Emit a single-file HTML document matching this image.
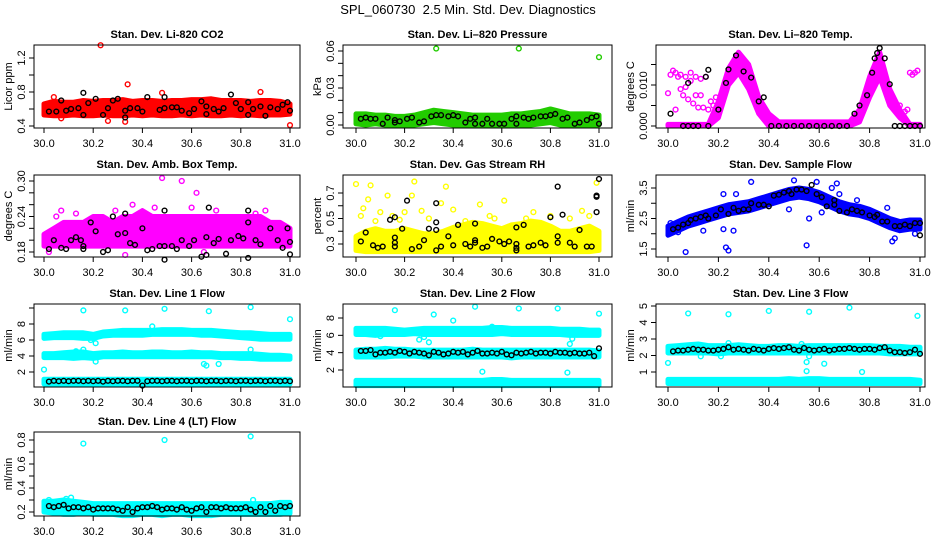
<!DOCTYPE html>
<html><head><meta charset="utf-8"><style>
body{margin:0;background:#fff}
svg{display:block;font-family:"Liberation Sans",Arial,sans-serif}
</style></head><body>
<svg id="chart" width="936" height="540" xmlns="http://www.w3.org/2000/svg">
<text x="468" y="14" text-anchor="middle" font-size="13">SPL_060730&#160; 2.5 Min. Std. Dev. Diagnostics</text>
</svg>
<script>
// shared categories
const T = [30.00,30.04,30.08,30.12,30.16,30.20,30.24,30.28,30.32,30.36,30.40,30.44,30.48,30.52,30.56,30.60,30.64,30.68,30.72,30.76,30.80,30.84,30.88,30.92,30.96,31.00];
const TB = [30.02,30.04,30.06,30.08,30.10,30.12,30.14,30.16,30.18,30.20,30.22,30.24,30.26,30.28,30.30,30.32,30.34,30.36,30.38,30.40,30.42,30.44,30.46,30.48,30.50,30.52,30.54,30.56,30.58,30.60,30.62,30.64,30.66,30.68,30.70,30.72,30.74,30.76,30.78,30.80,30.82,30.84,30.86,30.88,30.90,30.92,30.94,30.96,30.98,31.00];
const xTicks = [30.0,30.2,30.4,30.6,30.8,31.0];
const xTickLabels = ["30.0","30.2","30.4","30.6","30.8","31.0"];

// P1 CO2
const co2Lo = [0.53,0.52,0.52,0.53,0.52,0.52,0.53,0.52,0.52,0.53,0.52,0.53,0.52,0.52,0.53,0.52,0.53,0.52,0.52,0.53,0.52,0.53,0.52,0.53,0.53,0.54];
const co2Hi = [0.66,0.69,0.68,0.68,0.70,0.69,0.70,0.70,0.71,0.69,0.70,0.70,0.69,0.70,0.70,0.71,0.71,0.72,0.70,0.70,0.70,0.69,0.70,0.70,0.69,0.66];
const co2BlackX = [30.02,30.05,30.07,30.09,30.11,30.14,30.16,30.16,30.18,30.21,30.24,30.26,30.28,30.30,30.33,30.33,30.35,30.38,30.40,30.42,30.47,30.49,30.49,30.52,30.54,30.56,30.59,30.61,30.64,30.66,30.66,30.69,30.71,30.73,30.76,30.78,30.80,30.83,30.83,30.85,30.88,30.90,30.92,30.95,30.97,30.99,31.0];
const co2BlackY = [0.57,0.57,0.70,0.58,0.60,0.61,0.53,0.79,0.67,0.72,0.53,0.61,0.70,0.72,0.58,0.50,0.61,0.61,0.57,0.74,0.59,0.61,0.74,0.62,0.62,0.58,0.55,0.60,0.69,0.63,0.54,0.60,0.57,0.61,0.77,0.67,0.60,0.53,0.68,0.60,0.63,0.52,0.62,0.60,0.65,0.68,0.58];
const co2OutX = [30.23,30.34,30.26,30.33,30.88,31.0,30.48,30.07,30.04];
const co2OutY = [1.35,0.89,0.46,0.45,0.80,0.41,0.79,0.49,0.74];

// P2 Pressure
const presLo = [0.001,0.000,0.001,0.000,0.000,0.000,0.000,0.001,0.002,0.001,0.000,0.000,0.000,0.000,0.000,0.000,0.000,0.000,0.000,0.001,0.002,0.000,0.000,0.000,0.000,0.000];
const presHi = [0.009,0.009,0.008,0.008,0.007,0.007,0.008,0.010,0.012,0.011,0.010,0.009,0.008,0.008,0.008,0.008,0.009,0.009,0.010,0.011,0.013,0.011,0.009,0.009,0.009,0.008];
const presBlackX = [30.02,30.04,30.06,30.08,30.11,30.13,30.16,30.16,30.18,30.21,30.23,30.26,30.28,30.31,30.33,30.35,30.38,30.40,30.42,30.45,30.47,30.49,30.49,30.52,30.54,30.56,30.59,30.61,30.64,30.66,30.66,30.69,30.71,30.73,30.76,30.78,30.80,30.82,30.85,30.87,30.90,30.92,30.95,30.97,30.99,31.0];
const presBlackY = [0.005,0.006,0.005,0.005,0.001,0.006,0.002,0.004,0.003,0.005,0.006,0.002,0.003,0.007,0.008,0.008,0.007,0.008,0.007,0.002,0.005,0.006,0.001,0.001,0.005,0.001,0.001,0.001,0.005,0.007,0.001,0.006,0.005,0.006,0.007,0.007,0.008,0.009,0.005,0.006,0.001,0.002,0.004,0.006,0.007,0.001];
const presOutX = [30.33,30.67,31.0];
const presOutY = [0.062,0.062,0.055];

// P3 Temp
const tempLo = [0.000,0.000,0.000,0.000,0.000,0.002,0.010,0.013,0.009,0.003,0.000,0.000,0.000,0.000,0.000,0.000,0.000,0.000,0.000,0.001,0.007,0.012,0.005,0.002,0.000,0.000];
const tempHi = [0.0004,0.0004,0.0004,0.0004,0.0004,0.006,0.014,0.018,0.015,0.007,0.003,0.001,0.001,0.001,0.001,0.001,0.001,0.001,0.001,0.004,0.012,0.018,0.009,0.004,0.0004,0.0004];
const tempBlackX = [30.01,30.08,30.15,30.16,30.20,30.23,30.24,30.27,30.30,30.33,30.36,30.38,30.06,30.08,30.10,30.12,30.16,30.41,30.44,30.47,30.50,30.53,30.56,30.59,30.62,30.65,30.68,30.71,30.74,30.76,30.79,30.81,30.82,30.83,30.84,30.86,30.88,30.90,30.92,30.94,30.96,30.98,31.0];
const tempBlackY = [0.003,0.0105,0.012,0.0137,0.004,0.0105,0.0138,0.0172,0.0133,0.0118,0.006,0.007,0,0,0,0,0,0,0,0,0,0,0,0,0,0,0,0,0.003,0.005,0.0075,0.013,0.0165,0.0178,0.019,0.0165,0.0102,0,0,0,0,0,0];
const tempOutX = [30.01,30.03,30.05,30.07,30.09,30.11,30.13,30.15,30.17,30.00,30.03,30.06,30.08,30.10,30.12,30.14,30.16,30.18,30.19,30.05,30.07,30.11,30.13,30.02,30.04,30.09,30.96,30.98,30.97,30.92,30.95,30.99,30.94];
const tempOutY = [0.0125,0.013,0.0125,0.012,0.011,0.012,0.0115,0.012,0.006,0.008,0.004,0.0075,0.0065,0.0055,0.0045,0.0045,0.004,0.005,0.007,0.009,0.0095,0.0075,0.0075,0.0135,0.012,0.013,0.013,0.013,0.0125,0.005,0.004,0.0135,0.0035];

// P4 Amb box temp
const ambLo = [0.19,0.19,0.19,0.19,0.19,0.19,0.19,0.19,0.19,0.19,0.19,0.19,0.19,0.19,0.19,0.19,0.19,0.19,0.19,0.19,0.19,0.19,0.19,0.19,0.19,0.19];
const ambHi = [0.21,0.22,0.23,0.23,0.23,0.24,0.24,0.23,0.24,0.24,0.25,0.24,0.24,0.24,0.24,0.24,0.24,0.24,0.24,0.24,0.24,0.24,0.24,0.23,0.23,0.22];
const ambBlackX = [30.02,30.04,30.07,30.09,30.11,30.13,30.15,30.16,30.16,30.19,30.21,30.24,30.26,30.28,30.30,30.33,30.33,30.35,30.37,30.40,30.42,30.44,30.47,30.49,30.49,30.49,30.52,30.54,30.56,30.59,30.61,30.64,30.66,30.66,30.67,30.69,30.71,30.74,30.76,30.79,30.81,30.83,30.83,30.83,30.86,30.88,30.92,30.95,30.97,30.99,31.0,31.0];
const ambBlackY = [0.185,0.20,0.187,0.185,0.20,0.205,0.20,0.19,0.185,0.23,0.215,0.18,0.183,0.24,0.21,0.212,0.245,0.195,0.192,0.22,0.183,0.185,0.19,0.19,0.167,0.25,0.19,0.185,0.20,0.19,0.20,0.172,0.205,0.175,0.255,0.195,0.202,0.177,0.20,0.207,0.203,0.25,0.23,0.17,0.20,0.193,0.22,0.20,0.187,0.22,0.197,0.176];
const ambOutX = [30.48,30.56,30.62,30.13,30.07,30.36,30.60,30.33,30.02,30.65,30.29,30.86,30.05,30.45,30.70,30.90];
const ambOutY = [0.305,0.30,0.28,0.245,0.25,0.26,0.255,0.175,0.18,0.18,0.25,0.245,0.24,0.255,0.25,0.25];

// P5 Gas stream RH
const rhLo = [0.25,0.24,0.24,0.24,0.24,0.24,0.24,0.24,0.24,0.24,0.24,0.24,0.24,0.24,0.24,0.24,0.24,0.24,0.24,0.24,0.24,0.24,0.24,0.24,0.24,0.25];
const rhHi = [0.36,0.40,0.42,0.40,0.40,0.42,0.40,0.38,0.38,0.40,0.43,0.45,0.47,0.46,0.44,0.42,0.45,0.46,0.48,0.47,0.44,0.40,0.40,0.42,0.44,0.40];
const rhBlackX = [30.02,30.04,30.07,30.09,30.11,30.14,30.16,30.16,30.16,30.16,30.19,30.21,30.23,30.26,30.28,30.30,30.33,30.33,30.33,30.33,30.35,30.38,30.40,30.42,30.45,30.47,30.49,30.49,30.49,30.52,30.54,30.56,30.59,30.61,30.63,30.66,30.66,30.66,30.66,30.69,30.71,30.73,30.76,30.78,30.80,30.83,30.83,30.83,30.85,30.88,30.90,30.92,30.95,30.97,30.99,30.99,30.99,31.0];
const rhBlackY = [0.32,0.39,0.29,0.27,0.28,0.49,0.51,0.35,0.31,0.28,0.42,0.64,0.26,0.28,0.33,0.42,0.41,0.47,0.62,0.25,0.28,0.36,0.29,0.45,0.30,0.28,0.31,0.33,0.46,0.27,0.28,0.34,0.32,0.30,0.32,0.43,0.30,0.27,0.25,0.45,0.28,0.29,0.31,0.29,0.51,0.36,0.31,0.75,0.53,0.31,0.28,0.41,0.28,0.28,0.55,0.67,0.68,0.81];
const rhOutX = [30.0,30.06,30.05,30.13,30.24,30.23,30.37,30.51,30.61,30.40,30.35,30.99,30.20,30.10,30.03,30.18,30.93,30.88,30.57,30.73,30.27,30.45,30.08,30.15,30.30,30.55,30.70,30.80,30.96,30.02];
const rhOutY = [0.77,0.76,0.65,0.68,0.79,0.68,0.75,0.61,0.64,0.57,0.62,0.78,0.55,0.55,0.58,0.49,0.56,0.50,0.50,0.55,0.56,0.48,0.48,0.52,0.50,0.52,0.50,0.52,0.52,0.52];

// P6 Sample flow
const flowLo = [1.95,2.1,2.25,2.35,2.45,2.55,2.65,2.7,2.75,2.85,2.95,3.05,3.15,3.2,3.15,3.05,2.9,2.75,2.65,2.6,2.5,2.35,2.2,2.1,2.15,2.15];
const flowHi = [2.25,2.4,2.55,2.65,2.75,2.85,2.95,3.0,3.05,3.15,3.25,3.35,3.45,3.5,3.45,3.35,3.2,3.05,2.95,2.9,2.8,2.65,2.5,2.4,2.45,2.45];
const flowBlackX = [30.02,30.04,30.06,30.08,30.09,30.11,30.13,30.15,30.16,30.19,30.21,30.24,30.26,30.28,30.30,30.32,30.33,30.36,30.38,30.40,30.42,30.44,30.46,30.48,30.49,30.51,30.53,30.55,30.57,30.59,30.61,30.63,30.66,30.66,30.68,30.71,30.73,30.75,30.77,30.80,30.82,30.83,30.85,30.87,30.90,30.92,30.94,30.96,30.98,31.0,31.0];
const flowBlackY = [2.15,2.2,2.3,2.35,2.45,2.5,2.55,2.6,2.5,2.6,2.8,2.65,2.85,2.75,2.8,2.8,3.0,2.95,2.95,2.9,3.25,3.28,3.35,3.4,3.3,3.45,3.45,3.4,3.6,3.3,3.2,2.9,2.95,3.1,2.75,2.7,2.8,2.75,2.7,2.6,2.55,2.62,2.4,2.4,2.25,2.25,2.3,2.25,2.35,2.35,1.95];
const flowOutX = [30.07,30.23,30.24,30.22,30.26,30.22,30.27,30.33,30.50,30.59,30.67,30.55,30.56,30.48,30.65,30.87,30.89,30.90,30.98,30.14,30.68,30.75,30.61,30.01,30.04];
const flowOutY = [1.4,1.55,1.45,2.15,2.1,3.3,3.3,3.7,3.75,3.7,3.65,1.62,2.5,2.8,3.5,2.85,1.75,1.85,2.0,2.1,3.3,3.1,2.7,2.35,2.05];

// P7 Line 1 flow
const l1UpLo = [6.2,6.3,6.3,6.3,6.2,6.2,6.5,6.6,6.6,6.6,6.6,6.7,6.7,6.7,6.7,6.7,6.6,6.6,6.5,6.4,6.3,6.2,6.1,6.1,6.1,6.1];
const l1UpHi = [6.7,6.8,6.9,6.9,6.9,6.7,7.0,7.1,7.2,7.2,7.2,7.2,7.3,7.3,7.3,7.2,7.2,7.2,7.1,7.0,6.9,6.9,6.8,6.7,6.7,6.7];
const l1MidLo = [3.8,3.8,3.8,3.7,3.8,3.7,3.9,3.9,3.9,3.9,3.9,3.9,3.9,3.9,3.9,3.9,3.9,3.9,3.8,3.8,3.7,3.7,3.6,3.6,3.6,3.6];
const l1MidHi = [4.3,4.3,4.4,4.5,4.5,4.3,4.4,4.4,4.5,4.4,4.4,4.5,4.5,4.4,4.4,4.5,4.4,4.4,4.3,4.3,4.3,4.3,4.2,4.1,4.1,4.0];
const l1LowLo = [0.5,0.5,0.5,0.5,0.5,0.5,0.5,0.5,0.5,0.5,0.5,0.5,0.5,0.5,0.5,0.5,0.5,0.5,0.5,0.5,0.5,0.5,0.5,0.5,0.5,0.5];
const l1LowHi = [1.1,1.1,1.1,1.1,1.1,1.1,1.1,1.1,1.1,1.1,1.1,1.1,1.1,1.1,1.1,1.1,1.1,1.1,1.1,1.1,1.1,1.1,1.1,1.1,1.1,1.1];
const l1BlackY = [0.8,0.9,0.85,0.9,0.85,0.9,0.9,0.85,0.9,0.85,0.9,0.8,0.9,0.85,0.9,0.9,0.85,0.9,0.9,0.3,0.85,0.9,0.9,0.85,0.9,0.9,0.85,0.9,0.9,0.85,0.9,0.9,0.85,0.9,0.9,0.85,0.9,0.9,0.85,0.9,0.9,0.85,0.9,0.9,0.85,0.9,0.9,0.85,0.9,0.85];
const l1OutX = [30.0,30.16,30.33,30.49,30.67,30.84,31.0,30.21,30.21,30.19,30.65,30.66,30.71,30.84,30.44,30.13,30.16];
const l1OutY = [2.3,9.7,9.7,9.9,9.6,10.1,8.6,3.3,5.6,6.0,3.0,2.8,3.0,4.8,7.7,4.6,4.8];

// P8 Line 2 flow
const l2UpLo = [6.1,6.1,6.0,6.1,6.1,6.1,6.2,6.1,6.1,6.1,6.1,6.1,6.1,6.1,6.1,6.2,6.1,6.1,6.1,6.1,6.1,6.1,6.0,6.0,6.0,6.0];
const l2UpHi = [6.8,6.8,6.8,6.8,6.7,6.6,6.7,6.8,6.8,6.8,6.8,6.8,6.8,6.8,6.9,6.9,6.8,6.8,6.8,6.8,6.8,6.7,6.7,6.7,6.6,6.6];
const l2MidLo = [3.5,3.5,3.5,3.5,3.6,3.6,3.6,3.5,3.5,3.5,3.5,3.5,3.5,3.5,3.5,3.5,3.4,3.5,3.5,3.5,3.5,3.5,3.5,3.5,3.5,3.5];
const l2MidHi = [4.3,4.4,4.4,4.5,4.4,4.4,4.3,4.3,4.3,4.3,4.3,4.3,4.4,4.3,4.3,4.3,4.3,4.3,4.3,4.3,4.3,4.3,4.3,4.3,4.3,4.2];
const l2LowLo = [0.2,0.2,0.2,0.2,0.2,0.2,0.2,0.2,0.2,0.2,0.2,0.2,0.2,0.2,0.2,0.2,0.2,0.2,0.2,0.2,0.2,0.2,0.2,0.2,0.2,0.2];
const l2LowHi = [0.8,0.8,0.8,0.8,0.8,0.8,0.8,0.8,0.8,0.8,0.8,0.8,0.8,0.8,0.9,0.9,0.8,0.8,0.8,0.8,0.8,0.8,0.8,0.8,0.8,0.8];
const l2BlackY = [4.2,4.2,4.3,3.8,4.0,4.0,4.1,4.0,4.2,4.1,3.9,4.1,4.0,3.9,3.7,4.1,4.0,3.8,3.9,4.1,4.0,4.1,3.8,4.0,4.2,3.9,3.9,4.0,3.9,4.1,3.8,3.7,4.0,3.9,4.0,4.1,3.9,4.0,4.0,3.9,4.1,4.0,4.0,3.9,4.0,3.9,3.9,4.0,3.6,4.5];
const l2OutX = [30.16,30.32,30.40,30.49,30.67,30.83,31.0,30.28,30.26,30.30,30.56,30.52,30.87,30.88,30.89,30.10];
const l2OutY = [8.9,8.4,7.7,9.3,9.1,9.1,8.5,5.8,5.5,5.2,7.0,1.8,1.7,5.0,5.6,5.9];

// P9 Line 3 flow
const l3UpLo = [2.15,2.15,2.15,2.15,2.15,2.1,2.15,2.15,2.15,2.15,2.15,2.15,2.15,2.15,2.15,2.15,2.15,2.15,2.15,2.15,2.15,2.15,2.1,2.1,2.1,2.1];
const l3UpHi = [2.55,2.6,2.65,2.7,2.6,2.6,2.6,2.65,2.6,2.55,2.55,2.6,2.6,2.55,2.6,2.6,2.6,2.6,2.6,2.6,2.6,2.55,2.55,2.55,2.5,2.5];
const l3LowLo = [0.3,0.3,0.3,0.3,0.3,0.3,0.3,0.3,0.3,0.3,0.3,0.3,0.3,0.3,0.3,0.3,0.3,0.3,0.3,0.3,0.3,0.3,0.3,0.3,0.3,0.3];
const l3LowHi = [0.55,0.55,0.55,0.55,0.55,0.55,0.55,0.55,0.55,0.55,0.55,0.55,0.6,0.55,0.6,0.6,0.55,0.55,0.55,0.55,0.55,0.55,0.55,0.55,0.55,0.5];
const l3BlackY = [2.25,2.3,2.3,2.35,2.4,2.35,2.35,2.3,2.3,2.35,2.4,2.5,2.35,2.4,2.35,2.3,2.4,2.35,2.3,2.4,2.45,2.4,2.45,2.5,2.35,2.3,2.45,2.35,2.3,2.35,2.4,2.3,2.35,2.4,2.4,2.45,2.4,2.35,2.4,2.4,2.35,2.45,2.5,2.3,2.2,2.2,2.15,2.2,2.35,2.1];
const l3OutX = [30.0,30.08,30.24,30.40,30.56,30.72,30.99,30.13,30.21,30.24,30.53,30.55,30.55,30.56,30.62,30.77];
const l3OutY = [1.55,4.55,4.5,4.7,4.65,4.9,4.4,1.95,1.95,2.75,2.7,1.05,1.6,1.95,1.5,1.0];

// P10 Line 4 flow
const l4Lo = [0.2,0.19,0.18,0.18,0.19,0.18,0.18,0.18,0.17,0.17,0.18,0.18,0.17,0.18,0.18,0.17,0.17,0.17,0.18,0.18,0.18,0.18,0.18,0.18,0.18,0.19];
const l4Hi = [0.29,0.29,0.3,0.29,0.28,0.27,0.27,0.27,0.27,0.27,0.27,0.27,0.27,0.27,0.27,0.27,0.27,0.27,0.27,0.27,0.27,0.27,0.27,0.27,0.28,0.28];
const l4BlackY = [0.25,0.24,0.25,0.26,0.23,0.24,0.24,0.23,0.24,0.22,0.23,0.23,0.23,0.23,0.22,0.21,0.24,0.20,0.23,0.24,0.24,0.25,0.24,0.22,0.23,0.23,0.22,0.24,0.22,0.21,0.23,0.24,0.20,0.24,0.24,0.23,0.24,0.23,0.23,0.23,0.24,0.22,0.20,0.24,0.20,0.25,0.21,0.25,0.24,0.25];
const l4OutX = [30.16,30.49,30.84,30.11,30.85,30.09,30.02];
const l4OutY = [0.77,0.80,0.83,0.32,0.30,0.31,0.3];

const NS = "http://www.w3.org/2000/svg";
const svg = document.getElementById("chart");
function mk(tag, attrs, parent){const e=document.createElementNS(NS,tag);for(const k in attrs)e.setAttribute(k,attrs[k]);(parent||svg).appendChild(e);return e;}

function panel(p){
  const g = mk("g",{});
  
  
  const xs = v => p.x0 + (v-30)*(p.x1-p.x0);
  const ys = v => p.yA + (v-p.vA)*(p.yB-p.yA)/(p.vB-p.vA);
  const t = mk("text",{x:(p.L+p.R)/2,y:p.T-7,"text-anchor":"middle","font-size":"11","font-weight":"bold"},g);
  t.textContent = p.title;
  
  
  (p.bands||[]).forEach(b=>{
    let pts=[];
    for(let i=0;i<T.length;i++)pts.push(xs(T[i])+","+ys(b[1][i]));
    for(let i=T.length-1;i>=0;i--)pts.push(xs(T[i])+","+ys(b[0][i]));
    const pg = mk("polygon",{points:pts.join(" "),fill:p.color,stroke:p.color,"stroke-width":"5","stroke-linejoin":"round"},g);
    
    
  });
  const ring=(x,y,c,nm)=>{const c1=mk("circle",{cx:xs(x),cy:ys(y),r:"2.4",fill:"none",stroke:c,"stroke-width":"1.4"},g);
    
    };
  for(let i=0;i<p.ox.length;i++) ring(p.ox[i],p.oy[i],p.color,'colored-point');
  for(let i=0;i<p.bx.length;i++) ring(p.bx[i],p.by[i],"#000",'black-point');
  const bx = mk("rect",{x:p.L,y:p.T,width:p.R-p.L,height:p.B-p.T,fill:"none",stroke:"#000","stroke-width":"1"},g);
  
  
  mk("line",{x1:xs(30),x2:xs(31),y1:p.B,y2:p.B,stroke:"#000"},g);
  xTicks.forEach((v,i)=>{
    mk("line",{x1:xs(v),x2:xs(v),y1:p.B,y2:p.B+5,stroke:"#000"},g);
    if(p.xlab){const tl=mk("text",{x:xs(v),y:p.B+19,"text-anchor":"middle","font-size":"11"},g);tl.textContent=xTickLabels[i];
      
      }
  });
  p.yt.forEach(v=>{mk("line",{x1:p.L-5,x2:p.L,y1:ys(v),y2:ys(v),stroke:"#000"},g);});
  p.yl.forEach((v,i)=>{const tl=mk("text",{x:p.L-9,y:ys(v),"text-anchor":"middle","font-size":"11",transform:`rotate(-90 ${p.L-9} ${ys(v)})`},g);tl.textContent=p.ylt[i];
    
    });
  const yt = mk("text",{x:p.L-22,y:(p.T+p.B)/2,"text-anchor":"middle","font-size":"11",transform:`rotate(-90 ${p.L-22} ${(p.T+p.B)/2})`},g);
  yt.textContent=p.ylabel;
  
  
}
const C1={L:34,R:300,x0:44,x1:290}, C2={L:343,R:612,x0:356,x1:599}, C3={L:656,R:925,x0:668,x1:920};
panel({...C1,T:45,B:128,name:"panel-co2",title:"Stan. Dev. Li-820 CO2",ylabel:"Licor ppm",color:"#ff0000",vA:0.4,yA:126,vB:1.2,yB:58,yt:[0.4,0.6,0.8,1.0,1.2],yl:[0.4,0.8,1.2],ylt:["0.4","0.8","1.2"],bands:[[co2Lo,co2Hi]],bx:co2BlackX,by:co2BlackY,ox:co2OutX,oy:co2OutY,xlab:true});
panel({...C2,T:45,B:128,name:"panel-pressure",title:"Stan. Dev. Li\u2013820 Pressure",ylabel:"kPa",color:"#22cc00",vA:0,yA:125,vB:0.06,yB:51,yt:[0,0.01,0.02,0.03,0.04,0.05,0.06],yl:[0,0.03,0.06],ylt:["0.00","0.03","0.06"],bands:[[presLo,presHi]],bx:presBlackX,by:presBlackY,ox:presOutX,oy:presOutY,xlab:true});
panel({...C3,T:45,B:128,name:"panel-temp",title:"Stan. Dev. Li\u2013820 Temp.",ylabel:"degrees C",color:"#ff00ff",vA:0,yA:126,vB:0.01,yB:85,yt:[0,0.005,0.01,0.015],yl:[0,0.01],ylt:["0.000","0.010"],bands:[[tempLo,tempHi]],bx:tempBlackX,by:tempBlackY,ox:tempOutX,oy:tempOutY,xlab:true});
panel({...C1,T:175,B:257,name:"panel-amb-box-temp",title:"Stan. Dev. Amb. Box Temp.",ylabel:"degrees C",color:"#ff00ff",vA:0.18,yA:252,vB:0.30,yB:181,yt:[0.18,0.20,0.22,0.24,0.26,0.28,0.30],yl:[0.18,0.24,0.30],ylt:["0.18","0.24","0.30"],bands:[[ambLo,ambHi]],bx:ambBlackX,by:ambBlackY,ox:ambOutX,oy:ambOutY,xlab:true});
panel({...C2,T:175,B:257,name:"panel-gas-rh",title:"Stan. Dev. Gas Stream RH",ylabel:"percent",color:"#ffff00",vA:0.3,yA:244,vB:0.7,yB:193,yt:[0.3,0.4,0.5,0.6,0.7],yl:[0.3,0.5,0.7],ylt:["0.3","0.5","0.7"],bands:[[rhLo,rhHi]],bx:rhBlackX,by:rhBlackY,ox:rhOutX,oy:rhOutY,xlab:true});
panel({...C3,T:175,B:257,name:"panel-sample-flow",title:"Stan. Dev. Sample Flow",ylabel:"ml/min",color:"#0000ff",vA:1.5,yA:249,vB:3.5,yB:188,yt:[1.5,2,2.5,3,3.5],yl:[1.5,2.5,3.5],ylt:["1.5","2.5","3.5"],bands:[[flowLo,flowHi]],bx:flowBlackX,by:flowBlackY,ox:flowOutX,oy:flowOutY,xlab:true});
panel({...C1,T:304,B:387,name:"panel-line1-flow",title:"Stan. Dev. Line 1 Flow",ylabel:"ml/min",color:"#00ffff",vA:2,yA:372,vB:8,yB:324,yt:[2,4,6,8,10],yl:[2,4,6,8],ylt:["2","4","6","8"],bands:[[l1UpLo,l1UpHi],[l1MidLo,l1MidHi],[l1LowLo,l1LowHi]],bx:TB,by:l1BlackY,ox:l1OutX,oy:l1OutY,xlab:true});
panel({...C2,T:304,B:387,name:"panel-line2-flow",title:"Stan. Dev. Line 2 Flow",ylabel:"ml/min",color:"#00ffff",vA:2,yA:370,vB:8,yB:318,yt:[2,4,6,8],yl:[2,4,6,8],ylt:["2","4","6","8"],bands:[[l2UpLo,l2UpHi],[l2MidLo,l2MidHi],[l2LowLo,l2LowHi]],bx:TB,by:l2BlackY,ox:l2OutX,oy:l2OutY,xlab:true});
panel({...C3,T:304,B:387,name:"panel-line3-flow",title:"Stan. Dev. Line 3 Flow",ylabel:"ml/min",color:"#00ffff",vA:1,yA:372,vB:5,yB:306,yt:[1,2,3,4,5],yl:[1,2,3,4,5],ylt:["1","2","3","4","5"],bands:[[l3UpLo,l3UpHi],[l3LowLo,l3LowHi]],bx:TB,by:l3BlackY,ox:l3OutX,oy:l3OutY,xlab:true});
panel({...C1,T:432,B:516,name:"panel-line4-flow",title:"Stan. Dev. Line 4 (LT) Flow",ylabel:"ml/min",color:"#00ffff",vA:0.2,yA:512,vB:0.8,yB:440,yt:[0.2,0.3,0.4,0.5,0.6,0.7,0.8],yl:[0.2,0.4,0.6,0.8],ylt:["0.2","0.4","0.6","0.8"],bands:[[l4Lo,l4Hi]],bx:TB,by:l4BlackY,ox:l4OutX,oy:l4OutY,xlab:true});
</script>
</body></html>
